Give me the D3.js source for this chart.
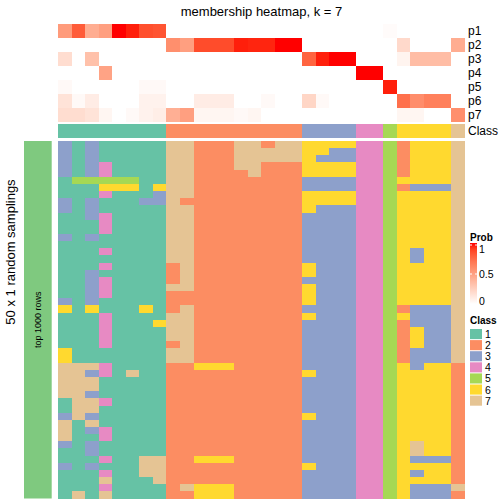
<!DOCTYPE html>
<html><head><meta charset="utf-8">
<script src="https://cdn.jsdelivr.net/npm/d3@7"></script>
<style>body{margin:0;background:#fff} svg{display:block}</style>
</head><body>
<svg id="chart" width="504" height="504"></svg>
<script>
// ---------------- data ----------------
const classIds = [1, 2, 3, 4, 5, 6, 7];
const classColors = ["#66C2A5", "#FC8D62", "#8DA0CB", "#E78AC3", "#A6D854", "#FFD92F", "#E5C494"];
const columnClass = [1,1,1,1,1,1,1,1, 2,2,2,2,2,2,2,2,2,2, 3,3,3,3, 4,4, 5, 6,6,6,6, 7];
const probNames = ["p1", "p2", "p3", "p4", "p5", "p6", "p7"];
const p1 = [0.52,0.80,0.43,0.50,1.00,0.97,0.85,0.83, 0,0,0,0,0,0,0,0,0,0, 0,0,0,0, 0,0, 0.02, 0,0,0,0, 0];
const p2 = [0,0,0,0,0,0,0,0, 0.58,0.50,0.86,0.86,0.86,0.97,0.96,0.96,1.00,1.00, 0,0,0,0, 0,0, 0, 0.20,0,0,0, 0.43];
const p3 = [0.18,0,0.33,0,0,0,0,0, 0,0,0,0,0,0,0,0,0,0, 0.77,0.97,1.00,1.00, 0,0, 0, 0.06,0.35,0.35,0.35, 0];
const p4 = [0,0,0,0.48,0,0,0,0, 0,0,0,0,0,0,0,0,0,0, 0,0,0,0, 1.00,1.00, 0, 0,0,0,0, 0];
const p5 = [0.03,0,0,0,0,0,0.03,0.03, 0,0,0,0,0,0,0,0,0,0, 0,0,0,0, 0,0, 0.97, 0,0,0,0, 0];
const p6 = [0.15,0.03,0.10,0,0,0,0.07,0.07, 0,0,0.10,0.10,0.10,0,0,0.03,0,0, 0.22,0.03,0,0, 0,0, 0, 0.72,0.59,0.65,0.65, 0];
const p7 = [0.18,0.18,0.15,0.05,0,0.03,0.07,0.09, 0.42,0.50,0.05,0.05,0.05,0.03,0.05,0,0,0, 0,0,0,0, 0,0, 0, 0.05,0.05,0,0, 0.58];
// class of each of the 50 samplings (top to bottom), one string per column (spaces only group runs)
const samplingsByColumn = [
  "33333 111 33 111 3 11111111 3 6 11111 66 77777 11 3 777 3 11 3 1111",
  "11111 5 11111 11111 11111 11111 11111 77777777 11111 11111 7",
  "33333 5 11 333 11 3 1111 33333 6 1111111 7 3 77 3 77 3 7 3 1 33 1 3 1111",
  "111 44 5 6 4 11 444 11 4 1 4 1 444 11 44444 11 44 111 4 111 44 11 4 1 4 7 4 7",
  "11111 5 6 11111 11111 11111 11111 11111 11111 11111 11111 111",
  "11111 5 6 11111 11111 11111 11111 11111 7 11111 11111 11111 11",
  "11111111 3 11111 11111 1111 6 11111 11111 11111 11111 777 111",
  "111111 6 33 11111 11111 11111 1 6 11111 11111 11111 111 7777 11",
  "77777 77777 77777 77 222 7 222 7777 2 77 22222 22222 22222 2222",
  "77777777 2 77777 77777 77 22 77777777 22222 22222 22222 22 7 2",
  "22222 22222 22222 22222 22222 22222 2 6 22222 22222 22 6 222 66",
  "22222 22222 22222 22222 22222 22222 2 6 22222 22222 22 6 222 66",
  "22222 22222 22222 22222 22222 22222 2 6 22222 22222 22 6 222 66",
  "7777 22222 22222 22222 22222 22222 22222 22222 22222 22222 2",
  "77777 22222 22222 22222 22222 22222 22222 22222 22222 22222",
  "2 77 22222 22222 22222 22222 22222 22222 22222 22222 22222 22",
  "777 22222 22222 22222 22222 22222 22222 22222 22222 22222 22",
  "777 22222 22222 22222 22222 22222 22222 22222 22222 22222 22",
  "66666 33 666 3333333 66 3 666 3 6 3333333 6 33333 6 333333 6 3333",
  "66 3 66 33 66 33333 33333 33333 33333 33333 33333 33333 33333 3",
  "6 33 66 33 66 33333 33333 33333 33333 33333 33333 33333 33333 3",
  "6 33 66 33 66 33333 33333 33333 33333 33333 33333 33333 33333 3",
  "44444 44444 44444 44444 44444 44444 44444 44444 44444 44444",
  "44444 44444 44444 44444 44444 44444 44444 44444 44444 44444",
  "55555 55555 55555 55555 55555 55555 55555 55555 55555 55555",
  "22222 6 2 66666 66666 66666 6 2 6 222222 66666 66666 66666 6666",
  "666666 3 66666666 33 666666 333 666 333 6666666666 77 3 6 3 6 33",
  "666666 3 66666 66666 66666 6 33333333 66666 66666 666 3 666 33",
  "666666 3 66666 66666 66666 6 33333333 66666 66666 666 3 666 33",
  "77777 77777 77777 77777 77777 77777 7 22222 22222 22222 22 7 2"
];
const probTicks = [0, 0.5, 1];
const titleText = "membership heatmap, k = 7";
const rowTitle = "50 x 1 random samplings";
const sliceTitle = "top 1000 rows";

// ---------------- drawing ----------------
const FONT = "'Liberation Sans', Arial, Helvetica, sans-serif";
const svg = d3.select("#chart").attr("font-family", FONT);

const probs = [p1, p2, p3, p4, p5, p6, p7];
const cols = d3.range(columnClass.length);
const matrix = samplingsByColumn.map(s => s.replace(/ /g, "").split("").map(Number));
matrix.forEach((c, i) => { if (c.length !== 50) console.warn("column", i, "length", c.length); });
const nRows = 50;

const x = d3.scaleBand().domain(cols).range([58, 464.7]);
const yProb = d3.scaleBand().domain(probNames).range([24, 122]);
const yRow = d3.scaleBand().domain(d3.range(nRows)).range([141, 498.5]);
const classColor = d3.scaleOrdinal().domain(classIds).range(classColors);
const probColor = d3.scaleLinear().domain([0, 1]).range(["#FFFFFF", "#FF0000"]).interpolate(d3.interpolateLab);

// title
svg.append("text").attr("x", 261.5).attr("y", 11).attr("text-anchor", "middle")
  .attr("dominant-baseline", "central").attr("font-size", 13).attr("fill", "#000").text(titleText);

// probability annotation
const gProb = svg.append("g").attr("shape-rendering", "crispEdges");
probNames.forEach((name, k) => {
  gProb.selectAll(null).data(cols).join("rect")
    .attr("x", c => x(c)).attr("y", yProb(name))
    .attr("width", x.bandwidth() + 0.3).attr("height", yProb.bandwidth() + 0.3)
    .attr("fill", c => probColor(probs[k][c]));
});
// class annotation
gProb.selectAll(null).data(cols).join("rect")
  .attr("x", c => x(c)).attr("y", 124).attr("width", x.bandwidth() + 0.3).attr("height", 14)
  .attr("fill", c => classColor(columnClass[c]));

// annotation labels
const annLabels = probNames.map(n => ({ t: n, y: yProb(n) + yProb.bandwidth() / 2 }));
annLabels.push({ t: "Class", y: 131 });
svg.selectAll(null).data(annLabels).join("text")
  .attr("x", 468).attr("y", d => d.y).attr("dominant-baseline", "central")
  .attr("font-size", 12).attr("fill", "#000").text(d => d.t);

// main heatmap
const cells = [];
matrix.forEach((colArr, c) => colArr.forEach((v, r) => cells.push({ c, r, v })));
svg.append("g").attr("shape-rendering", "crispEdges")
  .selectAll("rect").data(cells).join("rect")
  .attr("x", d => x(d.c)).attr("y", d => yRow(d.r))
  .attr("width", x.bandwidth() + 0.3).attr("height", yRow.bandwidth() + 0.3)
  .attr("fill", d => classColor(d.v));

// left slice bar + titles
svg.append("rect").attr("x", 24).attr("y", 141).attr("width", 27.7).attr("height", 357.5)
  .attr("fill", "#7FC97F");
svg.append("text").attr("transform", "translate(38," + ((141 + 498.5) / 2) + ") rotate(-90)")
  .attr("text-anchor", "middle").attr("dominant-baseline", "central")
  .attr("font-size", 9).attr("fill", "#000").text(sliceTitle);
svg.append("text").attr("transform", "translate(10,252) rotate(-90)")
  .attr("text-anchor", "middle").attr("dominant-baseline", "central")
  .attr("font-size", 13).attr("fill", "#000").text(rowTitle);

// Prob legend
const lg = svg.append("g");
lg.append("text").attr("x", 470).attr("y", 237).attr("dominant-baseline", "central")
  .attr("font-size", 10).attr("font-weight", "bold").text("Prob");
const defs = svg.append("defs");
const grad = defs.append("linearGradient").attr("id", "probGrad")
  .attr("x1", 0).attr("y1", 1).attr("x2", 0).attr("y2", 0);
d3.range(0, 1.0001, 0.1).forEach(t => grad.append("stop").attr("offset", t).attr("stop-color", probColor(t)));
const yLeg = d3.scaleLinear().domain([0, 1]).range([303, 245]);
lg.append("rect").attr("x", 470).attr("y", 243).attr("width", 7).attr("height", 61).attr("fill", "url(#probGrad)");
probTicks.filter(t => t > 0).forEach(t => {
  lg.append("line").attr("x1", 470).attr("x2", 472).attr("y1", yLeg(t)).attr("y2", yLeg(t)).attr("stroke", "#fff");
  lg.append("line").attr("x1", 475).attr("x2", 477).attr("y1", yLeg(t)).attr("y2", yLeg(t)).attr("stroke", "#fff");
});
lg.selectAll(null).data(probTicks).join("text")
  .attr("x", 479).attr("y", t => Math.max(248.5, Math.min(300.5, yLeg(t))))
  .attr("dominant-baseline", "central").attr("font-size", 10.5).text(t => String(t));

// Class legend
lg.append("text").attr("x", 470).attr("y", 320).attr("dominant-baseline", "central")
  .attr("font-size", 10).attr("font-weight", "bold").text("Class");
const yCls = d3.scaleBand().domain(classIds).range([328.5, 406.2]);
lg.selectAll(null).data(classIds).join("rect")
  .attr("x", 470).attr("y", d => yCls(d) + 0.5).attr("width", 12).attr("height", yCls.bandwidth() - 1)
  .attr("fill", d => classColor(d));
lg.selectAll(null).data(classIds).join("text")
  .attr("x", 485).attr("y", d => yCls(d) + yCls.bandwidth() / 2).attr("dominant-baseline", "central")
  .attr("font-size", 10.5).text(d => d);
</script>
</body></html>
